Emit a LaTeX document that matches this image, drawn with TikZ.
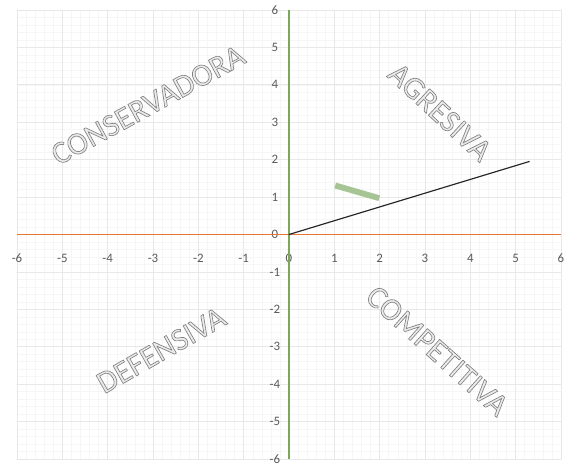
\documentclass[tikz,border=0pt]{standalone}
\usepackage{fontspec}
\setmainfont{Carlito}
\definecolor{ejeorange}{RGB}{230,120,50}
\definecolor{ejegreen}{RGB}{120,168,88}
\definecolor{tramogreen}{RGB}{166,196,148}
\definecolor{ticklabel}{RGB}{89,89,89}
\newcommand{\wordart}[1]{\special{pdf:literal direct 0.5 G 0.55 w 2 Tr}#1\special{pdf:literal direct 0 Tr}}
\tikzset{
  wordart/.style={font=\fontsize{27}{30}\selectfont, inner sep=0pt, text=gray!16},
  tick/.style={font=\fontsize{11}{13}\selectfont, text=ticklabel, inner sep=0pt}
}
\begin{document}
\begin{tikzpicture}[line cap=round,line join=round,x=1.36cm,y=1.1226cm]
		\useasboundingbox (-6.376,-6.186) rectangle (6.089,6.267);
		
		% grid
		\draw[gray!7,line width=0.4pt] (-6,-6) grid[step=0.2] (6,6);
		\draw[gray!18,line width=0.6pt] (-6,-6) grid[step=1] (6,6);
		
		% ticks
		\foreach \k in {-6,...,6} {
			\node[tick] (tx\k) at (\k,-0.64) {\k};
			\node[tick] (ty\k) at (-0.31,\k) {\k};
		}
		
		% axes
		\coordinate (xl) at (-6,0);
		\coordinate (xr) at (6,0);
		\coordinate (yb) at (0,-6);
		\coordinate (yt) at (0,6);
		\draw[ejeorange,line width=1pt,line cap=butt] (xl) -- (xr);
		\draw[ejegreen,line width=1pt,line cap=butt] (yb) -- (yt);
		
		% lines
		\coordinate (O) at (0,0);
		\coordinate (P) at (5.3,1.95);
		\coordinate (A) at (1.02,1.31);
		\coordinate (B) at (1.99,0.97);
		\draw[tramogreen,line width=5pt,line cap=butt] (A) -- (B);
		\draw[black!85,line width=1pt] (O) -- (P);
		
		% quadrant names
		\node[wordart,rotate=28.8] (cons) at (-3.11,3.46) {\wordart{CONSERVADORA}};
		\node[wordart,rotate=-42.8] (agre) at (3.33,3.27) {\wordart{AGRESIVA}};
		\node[wordart,rotate=29.7] (defe) at (-2.82,-3.09) {\wordart{DEFENSIVA}};
		\node[wordart,rotate=-41.7] (comp) at (3.27,-3.11) {\wordart{COMPETITIVA}};
	\end{tikzpicture}
\end{document}
